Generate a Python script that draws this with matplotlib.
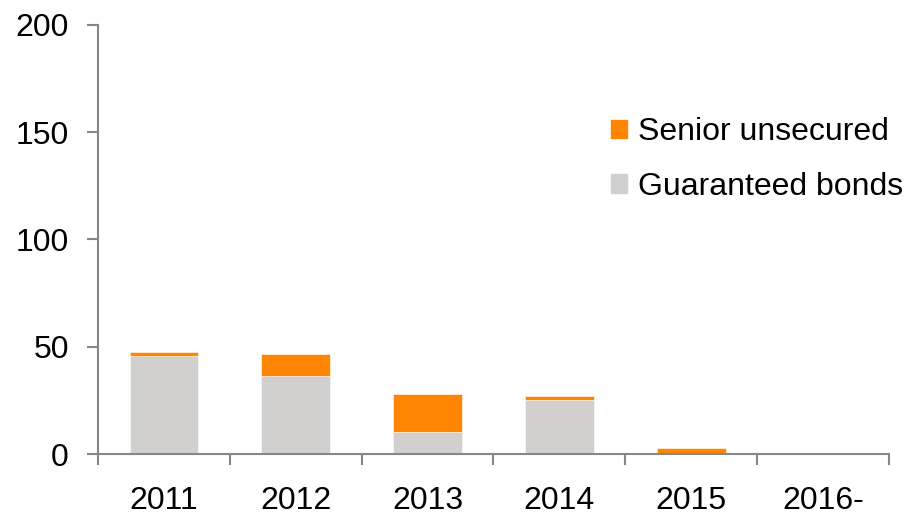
import matplotlib
matplotlib.use("Agg")
import matplotlib.pyplot as plt
from matplotlib.patches import Patch
import numpy as np

plt.rcParams['font.family'] = ['Liberation Sans', 'DejaVu Sans']

years = ['2011', '2012', '2013', '2014', '2015', '2016-']
guaranteed = [45.8, 36.3, 10.4, 25.3, 0.0, 0.0]
senior = [1.7, 10.3, 17.7, 1.9, 2.6, 0.0]

orange = '#FF8502'
grey = '#D1D0CF'
axis_col = '#878787'

fig = plt.figure(figsize=(9.09, 5.16), dpi=100)
ax = fig.add_axes([98/909, (516-454)/516, (889-98)/909, (454-24.7)/516])

x = np.arange(len(years))
ax.bar(x, guaranteed, width=0.52, color=grey, edgecolor='white', linewidth=0.4)
ax.bar(x, senior, width=0.52, bottom=guaranteed, color=orange, edgecolor='white', linewidth=0.4)

ax.set_xlim(-0.5, len(years) - 0.5)
ax.set_ylim(0, 200)
ax.set_yticks([0, 50, 100, 150, 200])
ax.set_xticks(x)
ax.set_xticklabels(years)
ax.set_xticks(np.arange(-0.5, len(years)), minor=True)
ax.tick_params(axis='x', which='major', length=0, pad=23, labelsize=23)
ax.tick_params(axis='x', which='minor', length=8, width=1.5, color=axis_col, direction='out')
ax.tick_params(axis='y', length=8, width=1.5, color=axis_col, direction='out', pad=13, labelsize=23)

for s in ['top', 'right']:
    ax.spines[s].set_visible(False)
for s in ['left', 'bottom']:
    ax.spines[s].set_color(axis_col)
    ax.spines[s].set_linewidth(1.5)

handles = [Patch(color=orange, label='Senior unsecured'),
           Patch(color=grey, label='Guaranteed bonds')]
fig.legend(handles=handles, loc='upper left', bbox_to_anchor=(611/909, 1 - 117/516),
           frameon=False, fontsize=23, handlelength=0.5, handleheight=0.5,
           handletextpad=0.35, labelspacing=0.78, borderpad=0, borderaxespad=0)

fig.savefig('out.png', dpi=100)
